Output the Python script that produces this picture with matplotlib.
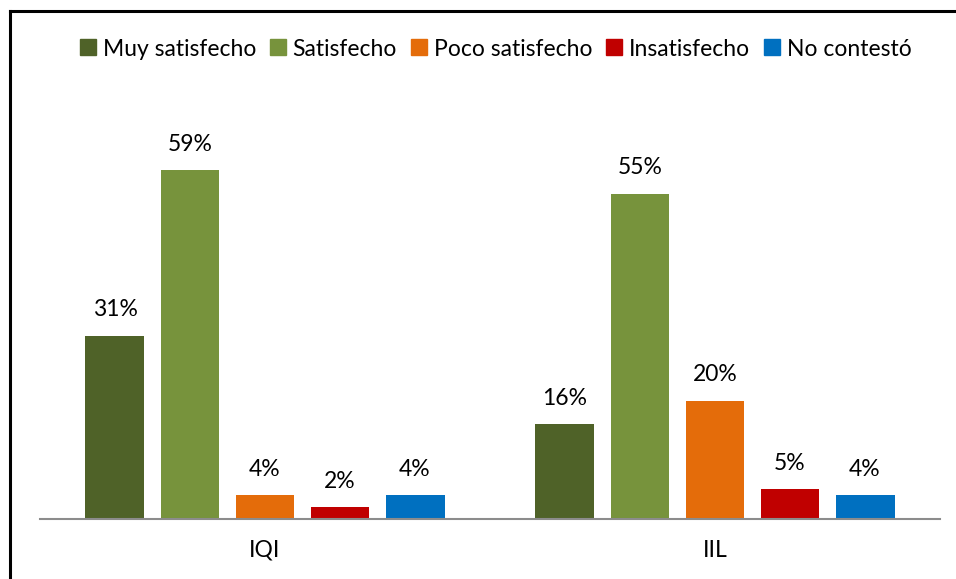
import numpy as np
import matplotlib.pyplot as plt
from matplotlib.lines import Line2D

# data
groups = ['IQI', 'IIL']
series = ['Muy satisfecho', 'Satisfecho', 'Poco satisfecho', 'Insatisfecho', 'No contestó']
values = {
    'Muy satisfecho': [31, 16],
    'Satisfecho': [59, 55],
    'Poco satisfecho': [4, 20],
    'Insatisfecho': [2, 5],
    'No contestó': [4, 4],
}
colors = ['#4F6228', '#77933C', '#E46C0A', '#C00000', '#0070C0']

plt.rcParams['font.family'] = ['Lato', 'DejaVu Sans']

fig = plt.figure(figsize=(9.56, 5.79), dpi=100)
W, H = 956, 579
ax = fig.add_axes([40 / W, (H - 519) / H, 900 / W, (519 - 105) / H])

x = np.arange(len(groups))
step = 0.1667
width = 0.131
for i, name in enumerate(series):
    xs = x + (i - 2) * step
    bars = ax.bar(xs, values[name], width, color=colors[i], label=name, zorder=2)
    for b, v in zip(bars, values[name]):
        ax.annotate(f'{v}%', (b.get_x() + b.get_width() / 2, v),
                    xytext=(0, 11), textcoords='offset points',
                    ha='center', va='bottom', fontsize=16.5, color='black')

ax.set_xlim(-0.5, 1.5)
ax.set_ylim(0, 70)
ax.set_xticks(x)
ax.set_xticklabels(groups, fontsize=16.5)
ax.tick_params(axis='x', length=0, pad=15)
ax.set_yticks([])
for s in ['top', 'right', 'left']:
    ax.spines[s].set_visible(False)
ax.spines['bottom'].set_color('#8C8C8C')
ax.spines['bottom'].set_linewidth(1.5)

handles = [Line2D([], [], marker='s', linestyle='', markersize=12, color=c) for c in colors]
fig.legend(handles, series, loc='center', bbox_to_anchor=(495 / W, 1 - 49 / H),
           ncol=5, frameon=False, fontsize=16.5, handlelength=0.8,
           handletextpad=0.25, columnspacing=0.55)

# outer chart frame (cropped at right and bottom in the reference)
fig.add_artist(Line2D([10 / W, 1.0], [1 - 11 / H, 1 - 11 / H], color='black', lw=2.2))
fig.add_artist(Line2D([10 / W, 10 / W], [0, 1 - 11 / H], color='black', lw=2.2))

fig.savefig('out.png', dpi=100)
